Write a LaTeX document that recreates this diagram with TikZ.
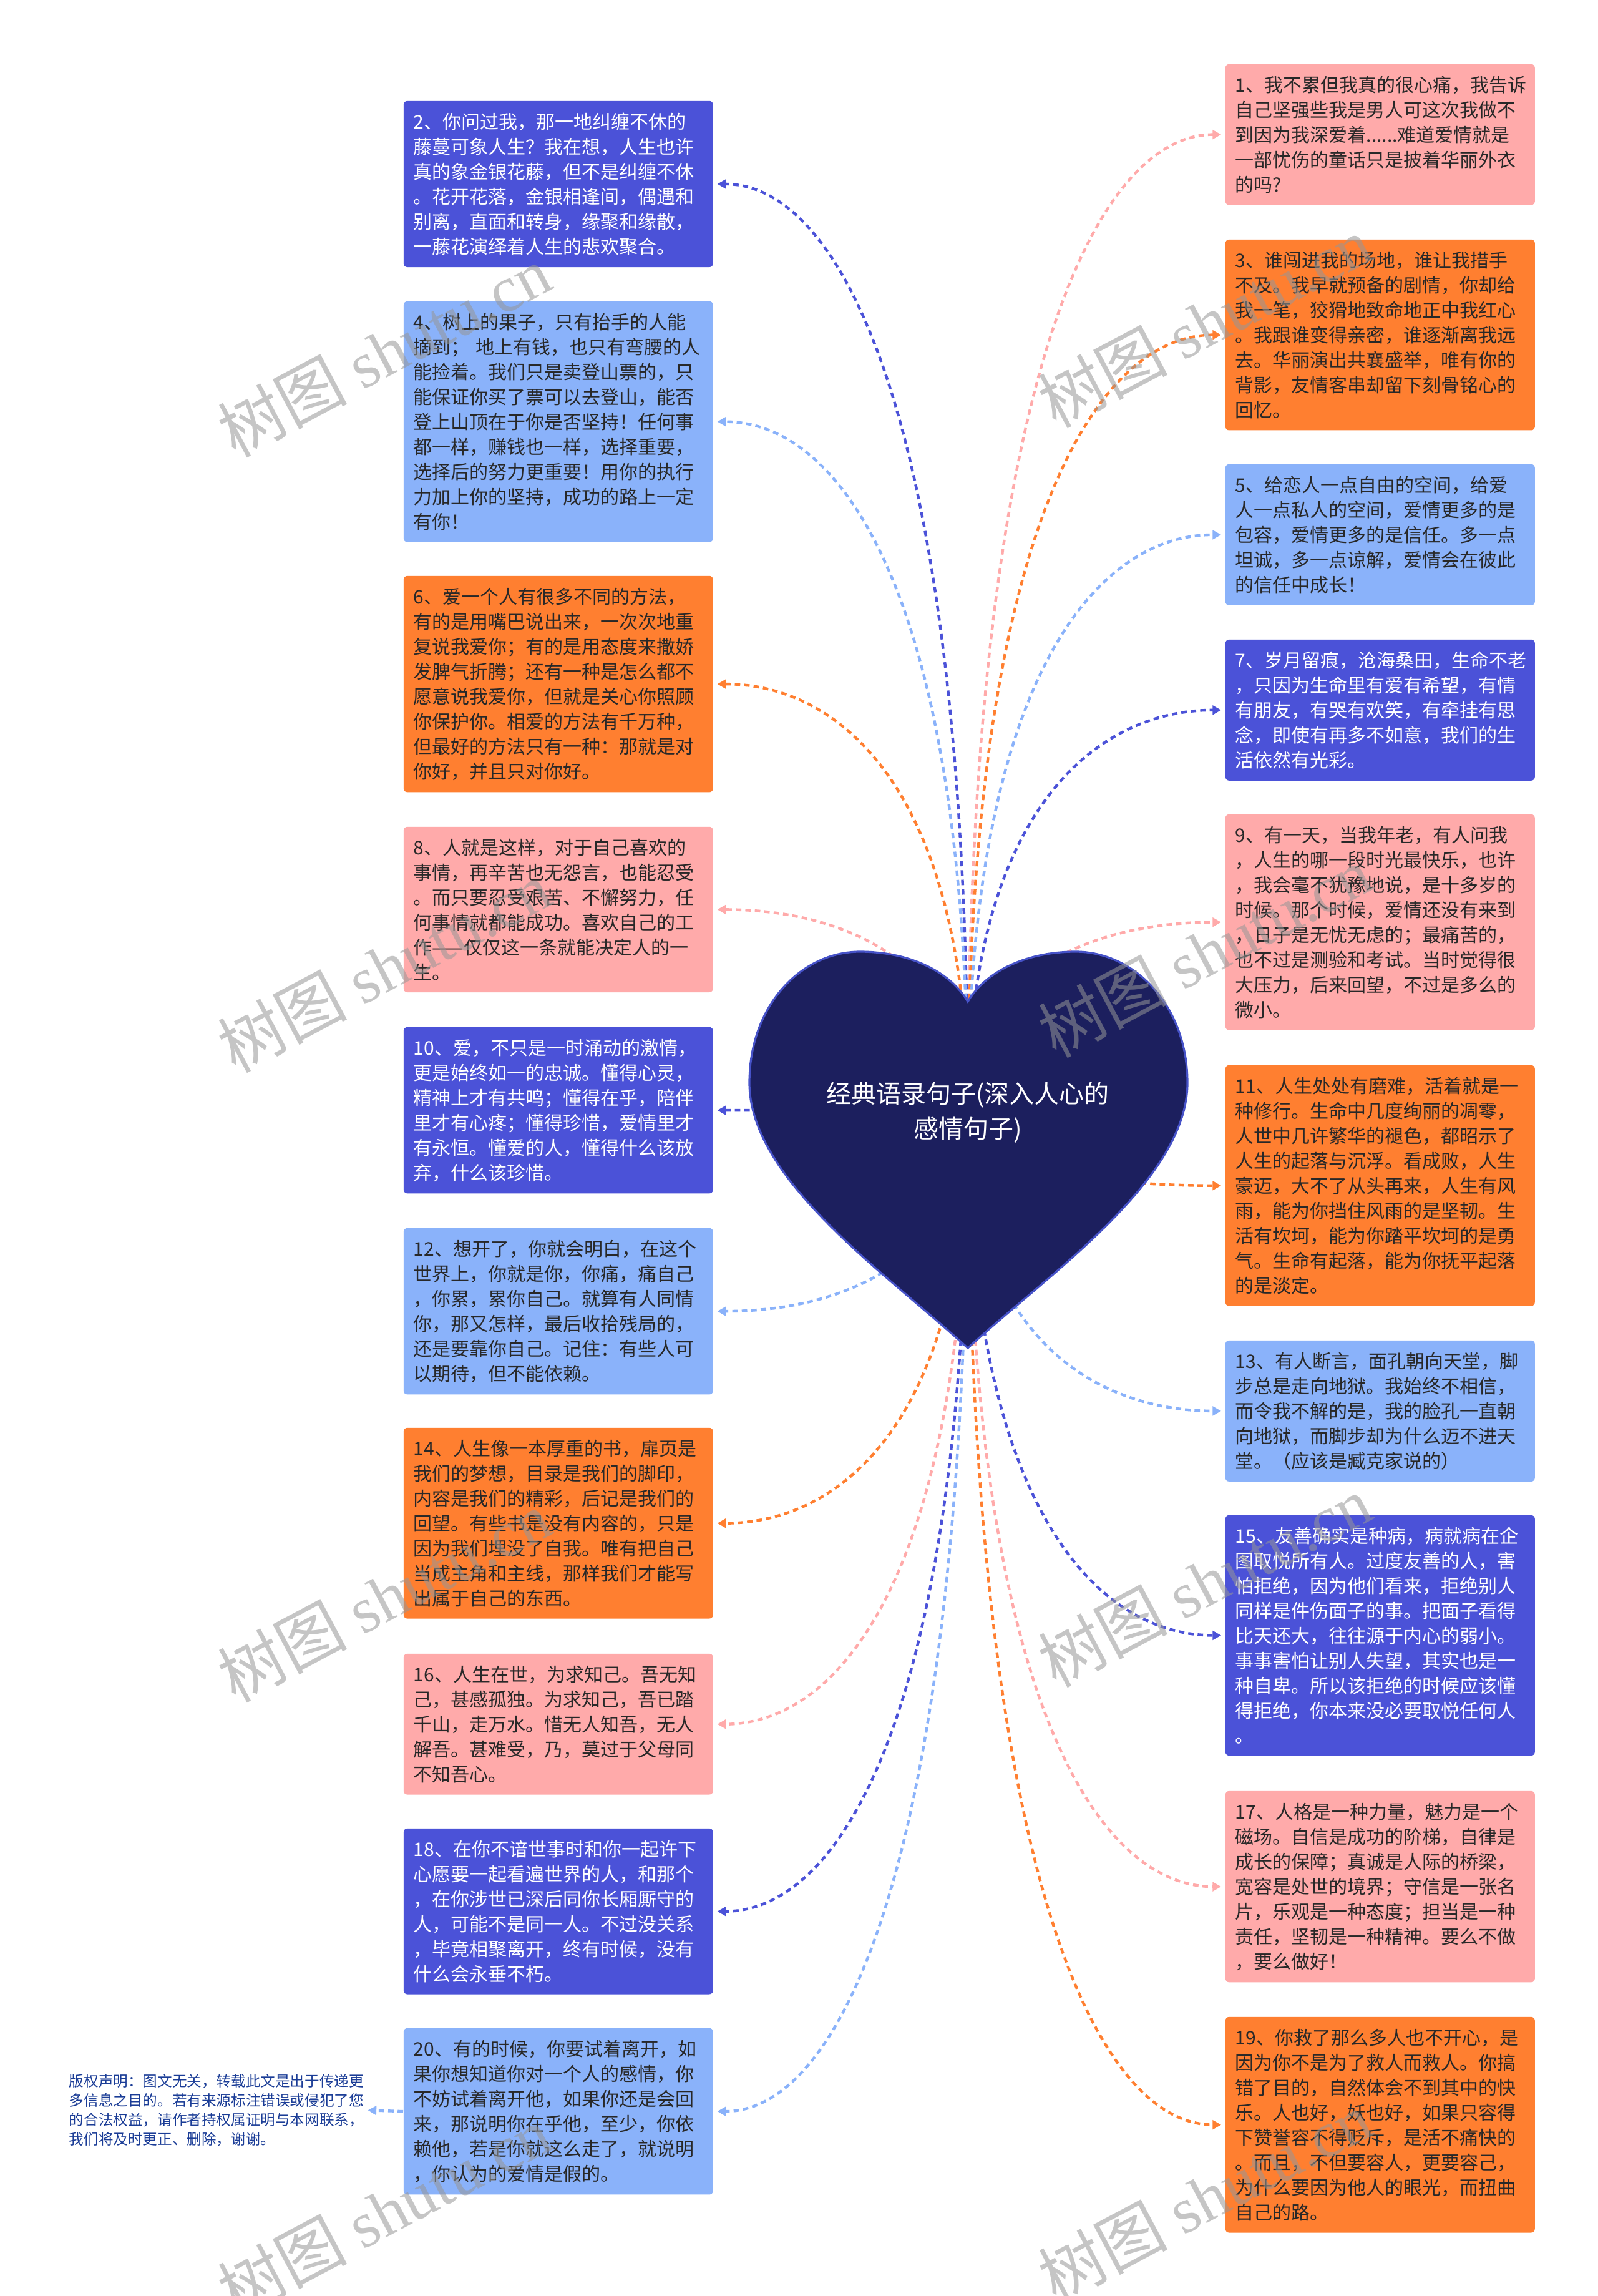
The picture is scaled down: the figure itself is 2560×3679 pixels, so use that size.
\documentclass[tikz,border=0pt]{standalone}
\usepackage{fontspec}
\setmainfont{Noto Sans CJK SC}
\newfontfamily\wmfont{Liberation Serif}
\usepackage{xcolor}
\usetikzlibrary{calc, arrows.meta, backgrounds}
\definecolor{navyfill}{RGB}{75,82,216}
\definecolor{skyfill}{RGB}{138,178,250}
\definecolor{amberfill}{RGB}{255,127,48}
\definecolor{rosefill}{RGB}{255,170,170}
\definecolor{inktext}{RGB}{40,40,40}
\definecolor{heartfill}{RGB}{28,31,94}
\definecolor{heartedge}{RGB}{70,82,200}
\definecolor{noteblue}{RGB}{26,60,150}
\definecolor{wmgray}{RGB}{150,150,150}
\tikzset{card/.style={rounded corners=1.5pt, anchor=north west, text width=116pt, inner xsep=4pt, inner ysep=4.75pt, align=left, font=\fontsize{7.5}{10}\selectfont},
navycard/.style={card, fill=navyfill, text=white},
skycard/.style={card, fill=skyfill, text=inktext},
ambercard/.style={card, fill=amberfill, text=inktext},
rosecard/.style={card, fill=rosefill, text=inktext},
%dashed connector, tip drawn solid
lnk/.style={->, line width=1.1pt, dash pattern=on 2.2pt off 1.6pt, shorten >=1.5pt},
curvelink/.style={to path={.. controls ($(\tikztostart)!0.75!(\tikztostart|-\tikztotarget)$) and ($(\tikztotarget)!0.5!(\tikztostart|-\tikztotarget)$) .. (\tikztotarget)}},
wm/.style={rotate=28, text=wmgray, opacity=0.55, font=\fontsize{26}{30}\selectfont},
>={Triangle[length=3.4pt,width=3.6pt]}}

\begin{document}
\begin{tikzpicture}[x=0.25pt,y=-0.25pt]
 \useasboundingbox (0,0) rectangle (2560,3679);
 \begin{pgfonlayer}{background}
  \fill[white] (0,0) rectangle (2560,3679);
 \end{pgfonlayer}

 % left column
 \node[navycard] (b2) at (646,161) {2、你问过我，那一地纠缠不休的\\藤蔓可象人生？我在想，人生也许\\真的象金银花藤，但不是纠缠不休\\。花开花落，金银相逢间，偶遇和\\别离，直面和转身，缘聚和缘散，\\一藤花演绎着人生的悲欢聚合。};
 \node[skycard] (b4) at (646,482) {4、树上的果子，只有抬手的人能\\摘到； 地上有钱，也只有弯腰的人\\能捡着。我们只是卖登山票的，只\\能保证你买了票可以去登山，能否\\登上山顶在于你是否坚持！任何事\\都一样，赚钱也一样，选择重要，\\选择后的努力更重要！用你的执行\\力加上你的坚持，成功的路上一定\\有你！};
 \node[ambercard] (b6) at (646,922) {6、爱一个人有很多不同的方法，\\有的是用嘴巴说出来，一次次地重\\复说我爱你；有的是用态度来撒娇\\发脾气折腾；还有一种是怎么都不\\愿意说我爱你，但就是关心你照顾\\你保护你。相爱的方法有千万种，\\但最好的方法只有一种：那就是对\\你好，并且只对你好。};
 \node[rosecard] (b8) at (646,1324) {8、人就是这样，对于自己喜欢的\\事情，再辛苦也无怨言，也能忍受\\。而只要忍受艰苦、不懈努力，任\\何事情就都能成功。喜欢自己的工\\作——仅仅这一条就能决定人的一\\生。};
 \node[navycard] (b10) at (646,1645) {10、爱，不只是一时涌动的激情，\\更是始终如一的忠诚。懂得心灵，\\精神上才有共鸣；懂得在乎，陪伴\\里才有心疼；懂得珍惜，爱情里才\\有永恒。懂爱的人，懂得什么该放\\弃，什么该珍惜。};
 \node[skycard] (b12) at (646,1967) {12、想开了，你就会明白，在这个\\世界上，你就是你，你痛，痛自己\\，你累，累你自己。就算有人同情\\你，那又怎样，最后收拾残局的，\\还是要靠你自己。记住：有些人可\\以期待，但不能依赖。};
 \node[ambercard] (b14) at (646,2287) {14、人生像一本厚重的书，扉页是\\我们的梦想，目录是我们的脚印，\\内容是我们的精彩，后记是我们的\\回望。有些书是没有内容的，只是\\因为我们埋没了自我。唯有把自己\\当成主角和主线，那样我们才能写\\出属于自己的东西。};
 \node[rosecard] (b16) at (646,2649) {16、人生在世，为求知己。吾无知\\己，甚感孤独。为求知己，吾已踏\\千山，走万水。惜无人知吾，无人\\解吾。甚难受，乃，莫过于父母同\\不知吾心。};
 \node[navycard] (b18) at (646,2929) {18、在你不谙世事时和你一起许下\\心愿要一起看遍世界的人，和那个\\，在你涉世已深后同你长厢厮守的\\人，可能不是同一人。不过没关系\\，毕竟相聚离开，终有时候，没有\\什么会永垂不朽。};
 \node[skycard] (b20) at (646,3249) {20、有的时候，你要试着离开，如\\果你想知道你对一个人的感情，你\\不妨试着离开他，如果你还是会回\\来，那说明你在乎他，至少，你依\\赖他，若是你就这么走了，就说明\\，你认为的爱情是假的。};

 % right column
 \node[rosecard] (b1) at (1963,102) {1、我不累但我真的很心痛，我告诉\\自己坚强些我是男人可这次我做不\\到因为我深爱着......难道爱情就是\\一部忧伤的童话只是披着华丽外衣\\的吗?};
 \node[ambercard] (b3) at (1963,383) {3、谁闯进我的场地，谁让我措手\\不及。我早就预备的剧情，你却给\\我一笔，狡猾地致命地正中我红心\\。我跟谁变得亲密，谁逐渐离我远\\去。华丽演出共襄盛举，唯有你的\\背影，友情客串却留下刻骨铭心的\\回忆。};
 \node[skycard] (b5) at (1963,743) {5、给恋人一点自由的空间，给爱\\人一点私人的空间，爱情更多的是\\包容，爱情更多的是信任。多一点\\坦诚，多一点谅解，爱情会在彼此\\的信任中成长！};
 \node[navycard] (b7) at (1963,1024) {7、岁月留痕，沧海桑田，生命不老\\，只因为生命里有爱有希望，有情\\有朋友，有哭有欢笑，有牵挂有思\\念，即使有再多不如意，我们的生\\活依然有光彩。};
 \node[rosecard] (b9) at (1963,1304) {9、有一天，当我年老，有人问我\\，人生的哪一段时光最快乐，也许\\，我会毫不犹豫地说，是十多岁的\\时候。那个时候，爱情还没有来到\\，日子是无忧无虑的；最痛苦的，\\也不过是测验和考试。当时觉得很\\大压力，后来回望，不过是多么的\\微小。};
 \node[ambercard] (b11) at (1963,1706) {11、人生处处有磨难，活着就是一\\种修行。生命中几度绚丽的凋零，\\人世中几许繁华的褪色，都昭示了\\人生的起落与沉浮。看成败，人生\\豪迈，大不了从头再来，人生有风\\雨，能为你挡住风雨的是坚韧。生\\活有坎坷，能为你踏平坎坷的是勇\\气。生命有起落，能为你抚平起落\\的是淡定。};
 \node[skycard] (b13) at (1963,2147) {13、有人断言，面孔朝向天堂，脚\\步总是走向地狱。我始终不相信，\\而令我不解的是，我的脸孔一直朝\\向地狱，而脚步却为什么迈不进天\\堂。（应该是臧克家说的）};
 \node[navycard] (b15) at (1963,2427) {15、友善确实是种病，病就病在企\\图取悦所有人。过度友善的人，害\\怕拒绝，因为他们看来，拒绝别人\\同样是件伤面子的事。把面子看得\\比天还大，往往源于内心的弱小。\\事事害怕让别人失望，其实也是一\\种自卑。所以该拒绝的时候应该懂\\得拒绝，你本来没必要取悦任何人\\。};
 \node[rosecard] (b17) at (1963,2869) {17、人格是一种力量，魅力是一个\\磁场。自信是成功的阶梯，自律是\\成长的保障；真诚是人际的桥梁，\\宽容是处世的境界；守信是一张名\\片，乐观是一种态度；担当是一种\\责任，坚韧是一种精神。要么不做\\，要么做好！};
 \node[ambercard] (b19) at (1963,3231) {19、你救了那么多人也不开心，是\\因为你不是为了救人而救人。你搞\\错了目的，自然体会不到其中的快\\乐。人也好，妖也好，如果只容得\\下赞誉容不得贬斥，是活不痛快的\\。而且，不但要容人，更要容己，\\为什么要因为他人的眼光，而扭曲\\自己的路。};

 \node[anchor=west, align=left, inner sep=0pt, text=noteblue, font=\fontsize{5.9}{7.75}\selectfont] (note) at (110,3381) {版权声明：图文无关，转载此文是出于传递更\\多信息之目的。若有来源标注错误或侵犯了您\\的合法权益，请作者持权属证明与本网联系，\\我们将及时更正、删除，谢谢。};

 % heart
 \filldraw[fill=heartfill, draw=heartedge, line width=0.8pt] (1551,2160) .. controls (1420,2040) and (1201,1890) .. (1201,1735) .. controls (1201,1610) and (1285,1525) .. (1378,1525) .. controls (1462,1525) and (1525,1560) .. (1551,1605) .. controls (1577,1560) and (1640,1525) .. (1724,1525) .. controls (1817,1525) and (1903,1610) .. (1903,1735) .. controls (1903,1890) and (1682,2040) .. (1551,2160) -- cycle;
 \node[align=center, text=white, font=\fontsize{10}{14}\selectfont] (title) at (1551,1783) {经典语录句子(深入人心的\\感情句子)};

 \begin{pgfonlayer}{background}
  \draw[lnk, rosefill] (title.center) to[curvelink] (b1.west);
  \draw[lnk, navyfill] (title.center) to[curvelink] (b2.east);
  \draw[lnk, amberfill] (title.center) to[curvelink] (b3.west);
  \draw[lnk, skyfill] (title.center) to[curvelink] (b4.east);
  \draw[lnk, skyfill] (title.center) to[curvelink] (b5.west);
  \draw[lnk, amberfill] (title.center) to[curvelink] (b6.east);
  \draw[lnk, navyfill] (title.center) to[curvelink] (b7.west);
  \draw[lnk, rosefill] (title.center) to[curvelink] (b8.east);
  \draw[lnk, rosefill] (title.center) to[curvelink] (b9.west);
  \draw[lnk, navyfill] (title.center) to[curvelink] (b10.east);
  \draw[lnk, amberfill] (title.center) to[curvelink] (b11.west);
  \draw[lnk, skyfill] (title.center) to[curvelink] (b12.east);
  \draw[lnk, skyfill] (title.center) to[curvelink] (b13.west);
  \draw[lnk, amberfill] (title.center) to[curvelink] (b14.east);
  \draw[lnk, navyfill] (title.center) to[curvelink] (b15.west);
  \draw[lnk, rosefill] (title.center) to[curvelink] (b16.east);
  \draw[lnk, rosefill] (title.center) to[curvelink] (b17.west);
  \draw[lnk, navyfill] (title.center) to[curvelink] (b18.east);
  \draw[lnk, amberfill] (title.center) to[curvelink] (b19.west);
  \draw[lnk, skyfill] (title.center) to[curvelink] (b20.east);
 \end{pgfonlayer}
 \draw[lnk, skyfill] (b20.west) -- (note.east);

 % watermark
 \node[wm] (wm1) at (615,563) {树图 {\wmfont shutu.cn}};
 \node[wm] (wm2) at (1930,516) {树图 {\wmfont shutu.cn}};
 \node[wm] (wm3) at (615,1549) {树图 {\wmfont shutu.cn}};
 \node[wm] (wm4) at (1930,1525) {树图 {\wmfont shutu.cn}};
 \node[wm] (wm5) at (615,2558) {树图 {\wmfont shutu.cn}};
 \node[wm] (wm6) at (1930,2534) {树图 {\wmfont shutu.cn}};
 \node[wm] (wm7) at (615,3543) {树图 {\wmfont shutu.cn}};
 \node[wm] (wm8) at (1930,3520) {树图 {\wmfont shutu.cn}};
\end{tikzpicture}
\end{document}
